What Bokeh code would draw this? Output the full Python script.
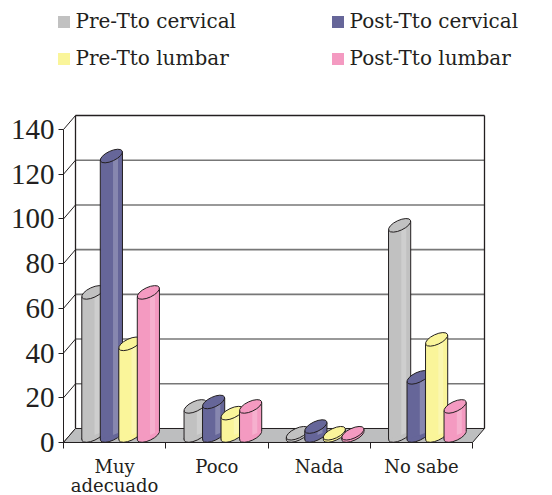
import math
from bokeh.plotting import figure
from bokeh.models import FixedTicker, Range1d, Legend, LegendItem, LabelSet, ColumnDataSource
from bokeh.core.properties import value
from bokeh.embed import file_html
from bokeh.resources import INLINE

# ---------------- data ----------------
categories = ["Muy\nadecuado", "Poco", "Nada", "No sabe"]
series_names = ["Pre-Tto cervical", "Post-Tto cervical", "Pre-Tto lumbar", "Post-Tto lumbar"]
pre_cervical = [64, 13, 1, 94]
post_cervical = [125, 15, 4, 26]
pre_lumbar = [41, 10, 1, 43]
post_lumbar = [64, 13, 1, 13]
y_ticks = [0, 20, 40, 60, 80, 100, 120, 140]
colors = ["#c1c1c1", "#666699", "#faf59a", "#f49ac1"]

series = [pre_cervical, post_cervical, pre_lumbar, post_lumbar]

# ---------------- layout constants ----------------
FW, FH = 552, 495
AXIS_PX = 63             # pixel column of the value axis
PX_CAT = 102.25          # pixels per category
PX_VAL = 2.2357          # pixels per unit
TOP_PX = 129             # pixel row of the 140 tick
N = len(categories)
YMAX = y_ticks[-1]
X0, X1 = -0.5, N - 0.5
X_START = X0 - AXIS_PX / PX_CAT
X_END = X_START + FW / PX_CAT
Y_TOP = YMAX + TOP_PX / PX_VAL
Y_START = Y_TOP - FH / PX_VAL
DX = 12 / PX_CAT         # depth offset (x)
DY = 14 / PX_VAL         # depth offset (y)
INK = "#231f20"

p = figure(frame_width=FW, frame_height=FH, output_backend="svg", toolbar_location=None,
           x_range=Range1d(X_START, X_END), y_range=Range1d(Y_START, Y_TOP),
           min_border_left=0, min_border_right=0, min_border_top=0,
           min_border_bottom=0, background_fill_color="white")
p.outline_line_color = None
p.grid.visible = False

# y axis at the front-left edge
ya = p.yaxis[0]
ya.fixed_location = X0
ya.ticker = FixedTicker(ticks=y_ticks, minor_ticks=[])
ya.bounds = (0, YMAX)
ya.axis_line_color = INK
ya.major_tick_line_color = INK
ya.major_tick_out = 5
ya.major_tick_in = 0
ya.minor_tick_line_color = None
ya.major_label_standoff = 4
ya.major_label_text_font = "Liberation Serif"
ya.major_label_text_font_size = "29px"
ya.major_label_text_color = INK

# x axis drawn at the front floor edge (value 0)
xa = p.xaxis[0]
xa.fixed_location = 0
xa.ticker = FixedTicker(ticks=list(range(N)), minor_ticks=[i - 0.5 for i in range(N + 1)])
xa.major_label_overrides = {i: "" for i in range(N)}
xa.bounds = (X0, X1)
xa.axis_line_color = INK
xa.major_tick_line_color = None
xa.major_tick_out = 0
xa.major_tick_in = 0
xa.minor_tick_line_color = INK
xa.minor_tick_out = 6
xa.minor_tick_in = 0
xa.major_label_standoff = 0
xa.major_label_text_font_size = "1px"

# ---------------- 3D scaffold ----------------
p.quad(left=[X0 + DX], right=[X1 + DX], bottom=[DY], top=[YMAX + DY],
       fill_color="white", line_color=None, level="underlay")
grid_vals = y_ticks[1:-1]
p.segment(x0=[X0 + DX] * len(grid_vals), y0=[t + DY for t in grid_vals],
          x1=[X1 + DX] * len(grid_vals), y1=[t + DY for t in grid_vals],
          line_color="#777777", line_width=1.6)
p.segment(x0=[X0 + DX, X0 + DX, X1 + DX], y0=[YMAX + DY, DY, DY],
          x1=[X1 + DX, X0 + DX, X1 + DX], y1=[YMAX + DY, YMAX + DY, YMAX + DY],
          line_color=INK, line_width=1.3)
p.segment(x0=[X0] * len(y_ticks), y0=y_ticks,
          x1=[X0 + DX] * len(y_ticks), y1=[t + DY for t in y_ticks],
          line_color=INK, line_width=1)
p.patch([X0, X1, X1 + DX, X0 + DX], [0, 0, DY, DY],
        fill_color="#bdbebf", line_color=INK, line_width=1)

# ---------------- cylinders ----------------
A, B = 12.0, 5.0                       # ellipse semi-axes (px)
TH = math.radians(25)
HXp = math.sqrt((A * math.cos(TH)) ** 2 + (B * math.sin(TH)) ** 2)
TYp = (A * A - B * B) * math.sin(TH) * math.cos(TH) / HXp
hx = HXp / PX_CAT
ty = TYp / PX_VAL
SP = 18.5 / PX_CAT

legend_renderers = []
for j, (vals, col) in enumerate(zip(series, colors)):
    cx = [i + DX / 2 + (j - 1.5) * SP for i in range(N)]
    yb = [DY / 2] * N
    yt = [v + DY / 2 for v in vals]
    p.ellipse(x=cx, y=yb, width=2 * A, height=2 * B, angle=TH,
              width_units="screen", height_units="screen",
              fill_color=col, line_color=INK, line_width=1)
    xs = [[c - hx, c + hx, c + hx, c - hx] for c in cx]
    ys = [[b - ty, b + ty, t + ty, t - ty] for b, t in zip(yb, yt)]
    body = p.patches(xs, ys, fill_color=col, line_color=None)
    # light stripe
    u0, u1 = 0.15, 0.6
    xs2 = [[c + u0 * hx, c + u1 * hx, c + u1 * hx, c + u0 * hx] for c in cx]
    ys2 = [[b + u0 * ty, b + u1 * ty, t + u1 * ty, t + u0 * ty] for b, t in zip(yb, yt)]
    p.patches(xs2, ys2, fill_color="white", fill_alpha=0.22, line_color=None)
    p.segment(x0=[c - hx for c in cx], y0=[b - ty for b in yb],
              x1=[c - hx for c in cx], y1=[t - ty for t in yt],
              line_color=INK, line_width=1)
    p.segment(x0=[c + hx for c in cx], y0=[b + ty for b in yb],
              x1=[c + hx for c in cx], y1=[t + ty for t in yt],
              line_color=INK, line_width=1)
    p.ellipse(x=cx, y=yt, width=2 * A, height=2 * B, angle=TH,
              width_units="screen", height_units="screen",
              fill_color=col, line_color=INK, line_width=1)
    legend_renderers.append(body)

# ---------------- category labels (one entry per text line, centred) ----------------
LINE0, LINE_STEP = 31, 19
lx, lt, lo = [], [], []
for i, c in enumerate(categories):
    for k, line in enumerate(c.split("\n")):
        lx.append(i)
        lt.append(line)
        lo.append(-(LINE0 + k * LINE_STEP))
cat_src = ColumnDataSource(dict(x=lx, y=[0] * len(lx), text=lt, off=lo))
p.add_layout(LabelSet(x="x", y="y", text="text", y_offset="off", source=cat_src,
                      text_align="center", text_baseline="alphabetic",
                      text_font=value("DejaVu Serif"), text_font_size=value("18px"),
                      text_color=INK))

# ---------------- legend ----------------
def make_legend(idx, vx):
    lg = Legend(items=[LegendItem(label=series_names[k], renderers=[legend_renderers[k]]) for k in idx],
                location=(vx, FH - 70), orientation="vertical",
                glyph_width=15, glyph_height=15, label_standoff=5, padding=0,
                spacing=13, margin=0, label_height=24,
                border_line_color=None, background_fill_alpha=0,
                label_text_font="DejaVu Serif", label_text_font_size="20px",
                label_text_color=INK)
    p.add_layout(lg)

make_legend([0, 2], 55.5)
make_legend([1, 3], 329.5)

open("out.html", "w").write(file_html(p, INLINE))
